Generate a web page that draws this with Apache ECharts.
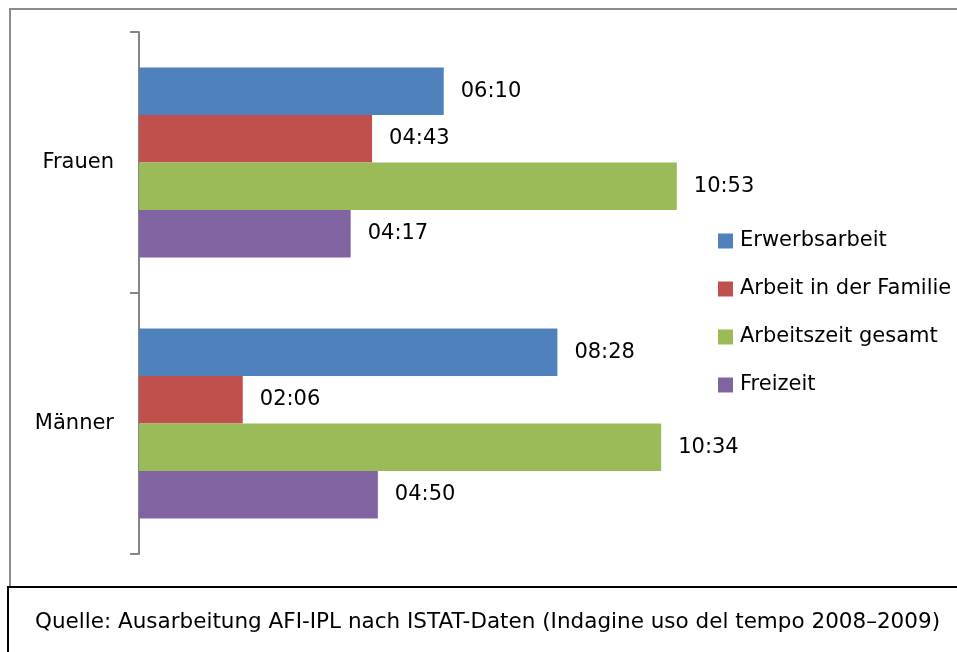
<!DOCTYPE html>
<html>
<head>
<meta charset="utf-8">
<script src="https://cdn.jsdelivr.net/npm/echarts@6/dist/echarts.min.js"></script>
<style>
  html, body { margin: 0; padding: 0; background: #fff; }
  #chart { width: 957px; height: 652px; }
</style>
</head>
<body>
<div id="chart"></div>
<script>
// Kategorien und Werte (Minuten pro Tag)
const categories = ['Frauen', 'Männer']
const seriesNames = ['Erwerbsarbeit', 'Arbeit in der Familie', 'Arbeitszeit gesamt', 'Freizeit']
const erwerbsarbeit = [370, 508]      // 06:10, 08:28
const familienarbeit = [283, 126]     // 04:43, 02:06
const arbeitGesamt = [653, 634]       // 10:53, 10:34
const freizeit = [257, 290]           // 04:17, 04:50
const colors = ['#4f81bd', '#c0504d', '#9bbb59', '#8064a2']
const sourceText = 'Quelle: Ausarbeitung AFI-IPL nach ISTAT-Daten (Indagine uso del tempo 2008–2009)'

const font = 'DejaVu Sans'

// Minuten -> hh:mm
function fmt(min) {
  const h = Math.floor(min / 60)
  const m = min % 60
  return String(h).padStart(2, '0') + ':' + String(m).padStart(2, '0')
}

const allData = [erwerbsarbeit, familienarbeit, arbeitGesamt, freizeit]

const chart = echarts.init(document.getElementById('chart'))
chart.setOption({
  animation: false,
  textStyle: { fontFamily: font },
  grid: { left: 139, top: 32, width: 593, height: 522 },
  xAxis: {
    type: 'value',
    min: 0,
    max: 720,
    show: false
  },
  yAxis: {
    type: 'category',
    data: categories,
    inverse: true,
    axisLine: { show: true, lineStyle: { color: '#868686', width: 2 } },
    axisTick: { show: true, alignWithLabel: false, length: 9, lineStyle: { color: '#868686', width: 2 } },
    axisLabel: { color: '#000', fontSize: 21, margin: 25, fontFamily: font }
  },
  legend: {
    orient: 'vertical',
    left: 718,
    top: 229,
    padding: 0,
    itemWidth: 15,
    itemHeight: 15,
    itemGap: 24,
    icon: 'rect',
    textStyle: { color: '#000', fontSize: 21, lineHeight: 24, fontFamily: font, padding: [0, 0, 0, 2] },
    data: seriesNames
  },
  series: seriesNames.map((name, i) => ({
    name: name,
    type: 'bar',
    data: allData[i],
    barWidth: 47.5,
    barGap: '0%',
    itemStyle: { color: colors[i] },
    label: {
      show: true,
      position: 'right',
      distance: 17,
      color: '#000',
      fontSize: 21,
      fontFamily: font,
      formatter: p => fmt(p.value)
    }
  })),
  graphic: [
    {
      type: 'rect',
      shape: { x: 10, y: 9, width: 980, height: 578 },
      style: { fill: null, stroke: '#8c8c8c', lineWidth: 2 },
      z: -1
    },
    {
      type: 'rect',
      shape: { x: 8, y: 587, width: 980, height: 100 },
      style: { fill: '#fff', stroke: '#000', lineWidth: 2 }
    },
    {
      type: 'text',
      x: 35,
      y: 622,
      style: { text: sourceText, fill: '#000', font: '21.5px "' + font + '"', verticalAlign: 'middle' }
    }
  ]
})
</script>
</body>
</html>
